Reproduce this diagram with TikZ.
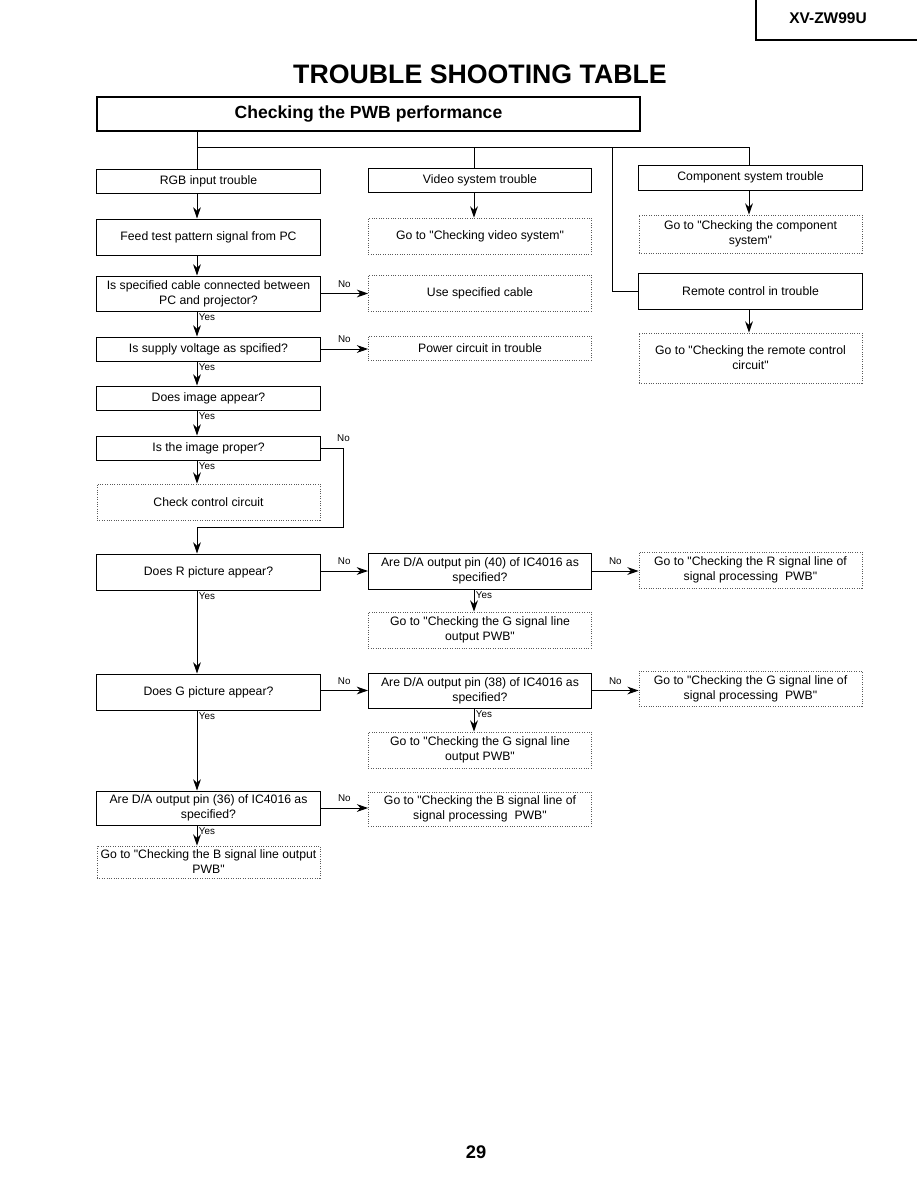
\documentclass[tikz,border=0pt]{standalone}
\usepackage{fontspec}
\setmainfont{Liberation Sans}[Ligatures=TeXOff]
\usetikzlibrary{arrows.meta}

\begin{document}
\begin{tikzpicture}[x=0.025cm, y=-0.025cm, line width=0.7pt,
    box/.style={draw, line width=0.7pt, minimum width=5.575cm, inner xsep=1pt, inner ysep=1pt, font=\fontsize{8.7}{10.6}\selectfont, align=center},
    gobox/.style={box, draw=black!65, densely dotted, line width=0.5pt},
    arr/.style={-{Stealth[length=8pt, width=5.5pt, inset=2.5pt]}, line width=0.7pt},
    yes/.style={font=\fontsize{7}{8}\selectfont, anchor=north west, inner sep=1pt},
    no/.style={font=\fontsize{7}{8}\selectfont, above=3pt, inner sep=1pt}
]
\useasboundingbox (0,0) rectangle (917,1190);

% Page header
\node[font=\bfseries\fontsize{11}{13}\selectfont] (model) at (828,18) {XV-ZW99U};
\draw[line width=0.9pt] (756,0) -- (756,40) -- (917,40);
\node[font=\bfseries\fontsize{19}{22}\selectfont] (title) at (480,74) {TROUBLE SHOOTING TABLE};
\node[draw, line width=1.4pt, minimum width=13.575cm, minimum height=0.85cm, font=\bfseries\fontsize{12.5}{15}\selectfont] (pwb) at (368.5,114) {Checking the PWB performance};

% RGB column
\node[box, minimum height=0.6cm] (rgb) at (208.5,181) {RGB input trouble};
\node[box, minimum height=0.9cm] (feed) at (208.5,237) {Feed test pattern signal from PC};
\node[box, minimum height=0.875cm] (cable) at (208.5,293.5) {Is specified cable connected between\\PC and projector?};
\node[box, minimum height=0.6cm] (volt) at (208.5,349) {Is supply voltage as spcified?};
\node[box, minimum height=0.6cm] (appear) at (208.5,398) {Does image appear?};
\node[box, minimum height=0.6cm] (proper) at (208.5,448) {Is the image proper?};
\node[gobox, minimum height=0.9cm] (ctrl) at (208.5,502) {Check control circuit};
\node[box, minimum height=0.9cm] (rpic) at (208.5,572) {Does R picture appear?};
\node[box, minimum height=0.9cm] (gpic) at (208.5,692) {Does G picture appear?};
\node[box, minimum height=0.85cm] (dab) at (208.5,808) {Are D/A output pin (36) of IC4016 as\\specified?};
\node[gobox, minimum height=0.8cm] (bline) at (208.5,862) {Go to "Checking the B signal line output\\PWB"};

% Video column
\node[box, minimum height=0.6cm] (video) at (480,180) {Video system trouble};
\node[gobox, minimum height=0.9cm] (govideo) at (480,236) {Go to "Checking video system"};
\node[gobox, minimum height=0.9cm] (usecable) at (480,293) {Use specified cable};
\node[gobox, minimum height=0.6cm] (power) at (480,348) {Power circuit in trouble};
\node[box, minimum height=0.9cm] (dar) at (480,571) {Are D/A output pin (40) of IC4016 as\\specified?};
\node[gobox, minimum height=0.9cm] (glineA) at (480,630) {Go to "Checking the G signal line\\output PWB"};
\node[box, minimum height=0.875cm] (dag) at (480,690.5) {Are D/A output pin (38) of IC4016 as\\specified?};
\node[gobox, minimum height=0.9cm] (glineB) at (480,750) {Go to "Checking the G signal line\\output PWB"};
\node[gobox, minimum height=0.85cm] (bproc) at (480,809) {Go to "Checking the B signal line of\\signal processing~ PWB"};

% Component / remote column
\node[box, minimum height=0.625cm] (comp) at (750.5,177.5) {Component system trouble};
\node[gobox, minimum height=0.95cm] (gocomp) at (750.5,234) {Go to "Checking the component\\system"};
\node[box, minimum height=0.9cm] (remote) at (750.5,291) {Remote control in trouble};
\node[gobox, minimum height=1.25cm] (goremote) at (750.5,358) {Go to "Checking the remote control\\circuit"};
\node[gobox, minimum height=0.9cm] (rproc) at (750.5,570) {Go to "Checking the R signal line of\\signal processing~ PWB"};
\node[gobox, minimum height=0.875cm] (gproc) at (750.5,688.5) {Go to "Checking the G signal line of\\signal processing~ PWB"};

\node[font=\bfseries\fontsize{13}{15}\selectfont] (page) at (476,1152) {29};

% Branches from the top box
\coordinate (lx) at (197,0);
\coordinate (mx) at (474,0);
\coordinate (rx) at (749,0);
\coordinate (sx) at (612,0);
\coordinate (bus) at (0,147);
\draw (pwb.south -| lx) -- (rgb.north -| lx);
\draw (bus -| lx) -| (comp.north -| rx);
\draw (bus -| mx) -- (video.north -| mx);
\draw (bus -| sx) |- (remote.west);

% Yes paths
\draw[arr] (rgb.south -| lx) -- (feed.north -| lx);
\draw[arr] (feed.south -| lx) -- (cable.north -| lx);
\draw[arr] (cable.south -| lx) node[yes] {Yes} -- (volt.north -| lx);
\draw[arr] (volt.south -| lx) node[yes] {Yes} -- (appear.north -| lx);
\draw[arr] (appear.south -| lx) node[yes] {Yes} -- (proper.north -| lx);
\draw[arr] (proper.south -| lx) node[yes] {Yes} -- (ctrl.north -| lx);
\draw[arr] (rpic.south -| lx) node[yes] {Yes} -- (gpic.north -| lx);
\draw[arr] (gpic.south -| lx) node[yes] {Yes} -- (dab.north -| lx);
\draw[arr] (dab.south -| lx) node[yes] {Yes} -- (bline.north -| lx);
\draw[arr] (video.south -| mx) -- (govideo.north -| mx);
\draw[arr] (dar.south -| mx) node[yes] {Yes} -- (glineA.north -| mx);
\draw[arr] (dag.south -| mx) node[yes] {Yes} -- (glineB.north -| mx);
\draw[arr] (comp.south -| rx) -- (gocomp.north -| rx);
\draw[arr] (remote.south -| rx) -- (goremote.north -| rx);

% No paths
\draw[arr] (cable.east) -- node[no] {No} (cable.east -| usecable.west);
\draw[arr] (volt.east) -- node[no] {No} (volt.east -| power.west);
\draw[arr] (proper.east) -- ++(23,0) node[no] {No} -- ++(0,79) -| (rpic.north -| lx);
\draw[arr] (rpic.east |- dar.west) -- node[no] {No} (dar.west);
\draw[arr] (dar.east) -- node[no] {No} (dar.east -| rproc.west);
\draw[arr] (gpic.east |- dag.west) -- node[no] {No} (dag.west);
\draw[arr] (dag.east) -- node[no] {No} (dag.east -| gproc.west);
\draw[arr] (dab.east) -- node[no] {No} (dab.east -| bproc.west);
\end{tikzpicture}
\end{document}
